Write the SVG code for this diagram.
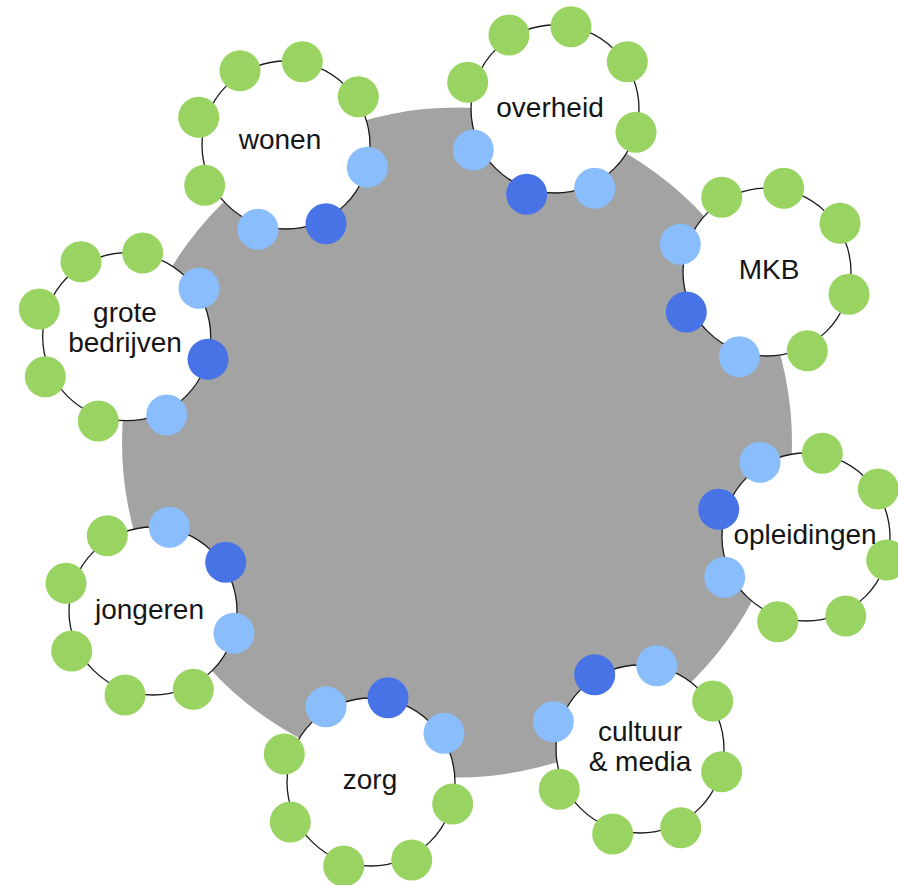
<svg xmlns="http://www.w3.org/2000/svg" width="898" height="885" viewBox="0 0 898 885">
<style>
.ring{fill:#ffffff;stroke:#1a1a1a;stroke-width:1.3}
.g{fill:#99d462}
.l{fill:#89bdfb}
.d{fill:#4873e6}
.t{font-family:"Liberation Sans",Arial,Helvetica,sans-serif;font-size:28px;fill:#151515;text-anchor:middle}
</style>
<rect width="898" height="885" fill="#ffffff"/>
<circle id="hub" cx="457" cy="442.5" r="335" fill="#a3a3a3"/>

<g id="wonen">
<circle class="ring" cx="286" cy="145" r="84"/>
<circle class="g" cx="240" cy="70.7" r="20.5"/>
<circle class="g" cx="302.3" cy="61.7" r="20.5"/>
<circle class="g" cx="358.3" cy="96.7" r="20.5"/>
<circle class="g" cx="198.7" cy="117.3" r="20.5"/>
<circle class="g" cx="204.7" cy="185.3" r="20.5"/>
<circle class="l" cx="367.3" cy="167.3" r="20.5"/>
<circle class="l" cx="258" cy="229.3" r="20.5"/>
<circle class="d" cx="326" cy="223.7" r="20.5"/>
<text class="t" x="280" y="149">wonen</text>
</g>

<g id="overheid">
<circle class="ring" cx="555" cy="109" r="84"/>
<circle class="g" cx="509" cy="35" r="20.5"/>
<circle class="g" cx="571" cy="26.7" r="20.5"/>
<circle class="g" cx="627.3" cy="61.7" r="20.5"/>
<circle class="g" cx="467.7" cy="82.3" r="20.5"/>
<circle class="g" cx="636" cy="132.3" r="20.5"/>
<circle class="l" cx="473.3" cy="150" r="20.5"/>
<circle class="l" cx="594.7" cy="188.3" r="20.5"/>
<circle class="d" cx="526.7" cy="194.3" r="20.5"/>
<text class="t" x="550" y="117">overheid</text>
</g>

<g id="mkb">
<circle class="ring" cx="767" cy="272" r="84"/>
<circle class="g" cx="721.7" cy="197.3" r="20.5"/>
<circle class="g" cx="783.7" cy="188.3" r="20.5"/>
<circle class="g" cx="840" cy="223.3" r="20.5"/>
<circle class="g" cx="849" cy="294.3" r="20.5"/>
<circle class="g" cx="807.3" cy="350.7" r="20.5"/>
<circle class="l" cx="680.3" cy="244.3" r="20.5"/>
<circle class="l" cx="739.3" cy="356.7" r="20.5"/>
<circle class="d" cx="686.3" cy="312" r="20.5"/>
<text class="t" x="769" y="279">MKB</text>
</g>

<g id="grote-bedrijven">
<circle class="ring" cx="126.7" cy="336.7" r="84"/>
<circle class="g" cx="81" cy="261.7" r="20.5"/>
<circle class="g" cx="142.7" cy="253" r="20.5"/>
<circle class="g" cx="39.3" cy="309" r="20.5"/>
<circle class="g" cx="45.3" cy="376.7" r="20.5"/>
<circle class="g" cx="98.3" cy="421" r="20.5"/>
<circle class="l" cx="199" cy="288.3" r="20.5"/>
<circle class="l" cx="166.7" cy="415" r="20.5"/>
<circle class="d" cx="208" cy="359.3" r="20.5"/>
<text class="t" x="125" y="322">grote</text>
<text class="t" x="125" y="352">bedrijven</text>
</g>

<g id="opleidingen">
<circle class="ring" cx="806" cy="537" r="84"/>
<circle class="g" cx="822.3" cy="453.3" r="20.5"/>
<circle class="g" cx="878.3" cy="489" r="20.5"/>
<circle class="g" cx="886.7" cy="560" r="20.5"/>
<circle class="g" cx="845.7" cy="616" r="20.5"/>
<circle class="g" cx="777.7" cy="621.7" r="20.5"/>
<circle class="l" cx="760" cy="462.3" r="20.5"/>
<circle class="l" cx="724.7" cy="577.3" r="20.5"/>
<circle class="d" cx="718.7" cy="509.3" r="20.5"/>
<text class="t" x="805" y="544">opleidingen</text>
</g>

<g id="jongeren">
<circle class="ring" cx="153" cy="611" r="84"/>
<circle class="g" cx="107.3" cy="535.7" r="20.5"/>
<circle class="g" cx="66" cy="583.3" r="20.5"/>
<circle class="g" cx="71.7" cy="651" r="20.5"/>
<circle class="g" cx="125" cy="695" r="20.5"/>
<circle class="g" cx="193.3" cy="689.3" r="20.5"/>
<circle class="l" cx="169.3" cy="527.3" r="20.5"/>
<circle class="l" cx="234" cy="633.3" r="20.5"/>
<circle class="d" cx="225.7" cy="562.3" r="20.5"/>
<text class="t" x="149.5" y="619">jongeren</text>
</g>

<g id="zorg">
<circle class="ring" cx="371" cy="782" r="84"/>
<circle class="g" cx="284.3" cy="754" r="20.5"/>
<circle class="g" cx="290.3" cy="822" r="20.5"/>
<circle class="g" cx="343.7" cy="866" r="20.5"/>
<circle class="g" cx="411.7" cy="860" r="20.5"/>
<circle class="g" cx="452.7" cy="804" r="20.5"/>
<circle class="l" cx="326" cy="706.7" r="20.5"/>
<circle class="l" cx="444" cy="733.3" r="20.5"/>
<circle class="d" cx="388" cy="697.7" r="20.5"/>
<text class="t" x="370" y="789">zorg</text>
</g>

<g id="cultuur-media">
<circle class="ring" cx="640" cy="749" r="84"/>
<circle class="g" cx="712.7" cy="701" r="20.5"/>
<circle class="g" cx="721.7" cy="771.7" r="20.5"/>
<circle class="g" cx="680.7" cy="827.7" r="20.5"/>
<circle class="g" cx="612.7" cy="834" r="20.5"/>
<circle class="g" cx="559.3" cy="789.3" r="20.5"/>
<circle class="l" cx="656.7" cy="665.7" r="20.5"/>
<circle class="l" cx="553.3" cy="721.7" r="20.5"/>
<circle class="d" cx="594.7" cy="674.7" r="20.5"/>
<text class="t" x="640" y="741">cultuur</text>
<text class="t" x="640" y="771">&amp; media</text>
</g>
</svg>
